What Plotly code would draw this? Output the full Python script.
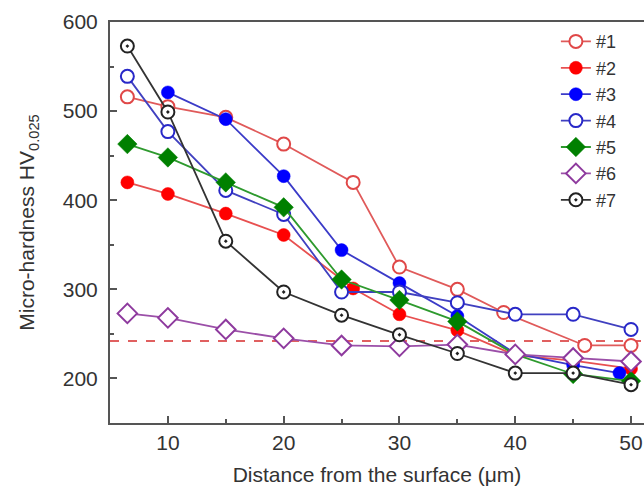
import plotly.graph_objects as go

# ---- data ----
x1 = [6.5, 10, 15, 20, 26, 30, 35, 39, 46, 50]
y1 = [516, 505, 493, 463, 420, 325, 300, 274, 237, 237]

x2 = [6.5, 10, 15, 20, 26, 30, 35, 40, 45, 50]
y2 = [420, 407, 385, 361, 301, 272, 254, 226, 220, 211]

x3 = [10, 15, 20, 25, 30, 35, 40, 45, 49]
y3 = [521, 491, 427, 344, 307, 270, 228, 215, 206]

x4 = [6.5, 10, 15, 20, 25, 30, 35, 40, 45, 50]
y4 = [539, 477, 411, 384, 297, 297, 285, 272, 272, 255]

x5 = [6.5, 10, 15, 20, 25, 30, 35, 40, 45, 50]
y5 = [463, 448, 420, 392, 311, 288, 264, 227, 205, 197]

x6 = [6.5, 10, 15, 20, 25, 30, 35, 40, 45, 50]
y6 = [273, 268, 255, 245, 237, 236, 238, 227, 223, 219]

x7 = [6.5, 10, 15, 20, 25, 30, 35, 40, 45, 50]
y7 = [573, 499, 354, 297, 271, 249, 228, 206, 206, 193]

names = ["#1", "#2", "#3", "#4", "#5", "#6", "#7"]
baseline_hv = 242
x_range = [5, 51.12]
y_range = [150, 600]
x_major = [10, 20, 30, 40, 50]
x_minor = [15, 25, 35, 45]
y_major = [200, 300, 400, 500, 600]
y_minor = [250, 350, 450, 550]

series = [
    (x1, y1, "#e05a5a", "circle-open", "#e04848"),
    (x2, y2, "#e85050", "circle", "#ff0000"),
    (x3, y3, "#3b3bc8", "circle", "#0000ff"),
    (x4, y4, "#4040c0", "circle-open", "#2828c8"),
    (x5, y5, "#2e9a2e", "diamond", "#008000"),
    (x6, y6, "#9b4fa8", "diamond-open", "#8e3a9e"),
    (x7, y7, "#333333", "circle-dot", "#222222"),
]

fig = go.Figure()

fig.add_trace(go.Scatter(
    x=x_range, y=[baseline_hv, baseline_hv], mode="lines",
    line=dict(color="#e06060", width=2, dash="dash"),
    showlegend=False, hoverinfo="skip"))

for i, (xs, ys, lc, sym, mc) in enumerate(series):
    if sym in ("circle-open", "diamond-open"):
        base = sym.replace("-open", "")
        marker = dict(symbol=base, size=13 if base == "circle" else 15,
                      color="white", line=dict(color=mc, width=2))
    elif sym == "circle-dot":
        marker = dict(symbol="circle-dot", size=13, color="white",
                      line=dict(color=mc, width=2))
    else:
        marker = dict(symbol=sym, size=13 if sym == "circle" else 15, color=mc,
                      line=dict(color=mc, width=0.5))
    fig.add_trace(go.Scatter(
        x=xs, y=ys, mode="lines+markers", name=names[i], legendgroup=names[i],
        line=dict(color=lc, width=1.8), marker=marker))

fig.update_layout(
    width=644, height=491,
    margin=dict(l=110, r=0, t=22, b=68),
    paper_bgcolor="white", plot_bgcolor="white",
    font=dict(family="Liberation Sans, Arial, sans-serif", size=21, color="#333333"),
    showlegend=True,
    legend=dict(x=0.835, y=0.997, xanchor="left", yanchor="top",
                bgcolor="rgba(0,0,0,0)", font=dict(size=18, color="#333333"),
                tracegroupgap=0, itemwidth=30),
)

fig.update_xaxes(
    range=x_range, showgrid=False, zeroline=False,
    showline=True, linecolor="#555555", linewidth=2, mirror=True,
    ticks="inside", ticklen=7, tickwidth=1.5, tickcolor="#555555",
    tickvals=x_major, ticklabelstandoff=0,
    minor=dict(tickvals=x_minor, ticks="inside", ticklen=4, tickwidth=1.5, tickcolor="#555555"),
    title=dict(text="Distance from the surface (μm)", font=dict(size=21), standoff=14),
)
fig.update_yaxes(
    range=y_range, showgrid=False, zeroline=False,
    showline=True, linecolor="#555555", linewidth=2,
    ticks="inside", ticklen=7, tickwidth=1.5, tickcolor="#555555",
    tickvals=y_major, ticklabelstandoff=6,
    minor=dict(tickvals=y_minor, ticks="inside", ticklen=4, tickwidth=1.5, tickcolor="#555555"),
    title=dict(text="Micro-hardness HV<sub>0.025</sub>", font=dict(size=21), standoff=22),
)

fig.write_html("out.html", config={"displayModeBar": False},
               post_script="document.body.style.margin='0';document.body.style.overflow='hidden';")
